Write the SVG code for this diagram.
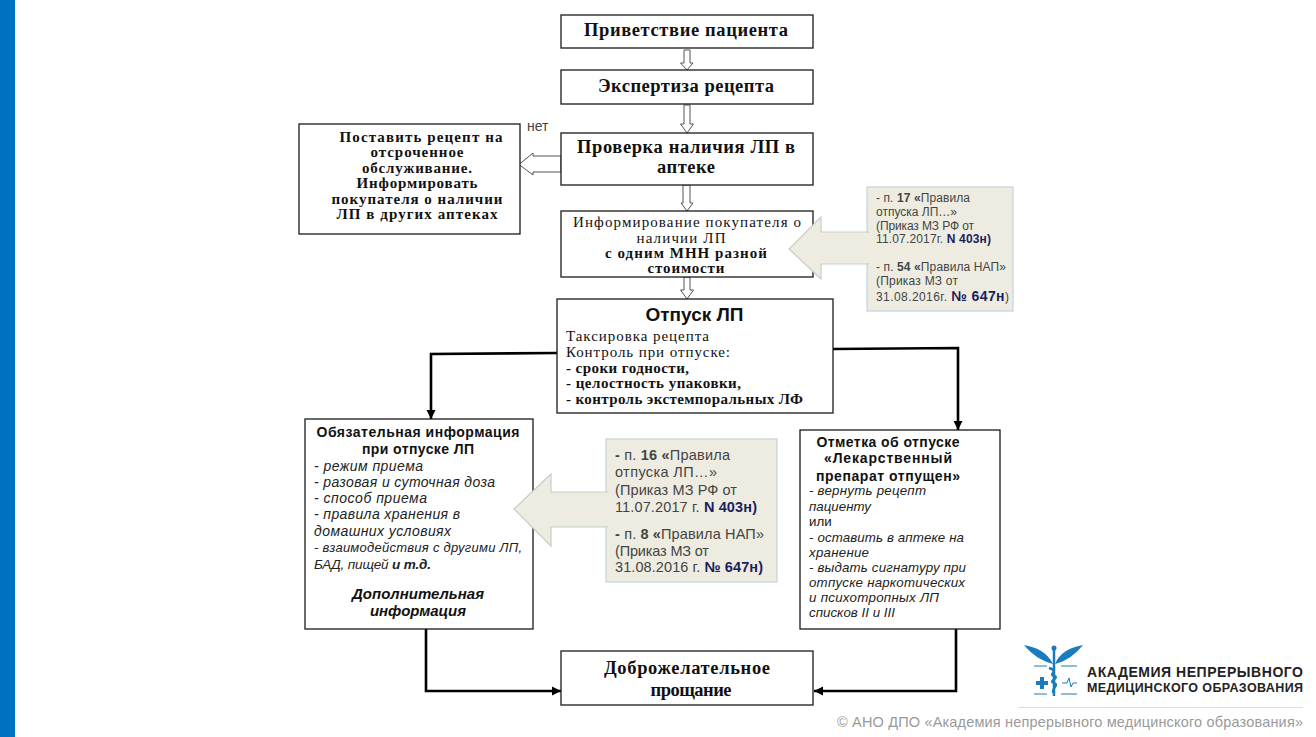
<svg xmlns="http://www.w3.org/2000/svg" width="1316" height="737" viewBox="0 0 1316 737">
<style>
.box{fill:#fff;stroke:#1a1a1a;stroke-width:1.3}
.s{font-family:"Liberation Serif","Times New Roman",serif;font-weight:700;fill:#111}
.a{font-family:"Liberation Sans",Arial,sans-serif;fill:#111}
.b{font-weight:700}
.i{font-style:italic;fill:#222}
.m{text-anchor:middle}
.h18{font-size:18.500px}
.h15{font-size:15px}
.t14{font-size:14px}
.t13{font-size:13.300px}
.g{fill:#444;font-size:12px}
.g2{fill:#444;font-size:14.500px}
.n{fill:#1a1f5c;font-weight:700}
.hollow{fill:#fff;stroke:#555;stroke-width:1}
.call{fill:#eeece1;stroke:#c3d2dc;stroke-width:1.2}
.callarrow{fill:#eeece1;stroke:#c3cfc9;stroke-width:1.2}
.conn{fill:none;stroke:#000;stroke-width:2.6}
.logo{fill:#1a7cbc}
</style>
<defs>
<marker id="ah" markerUnits="userSpaceOnUse" markerWidth="10" markerHeight="10" refX="9" refY="5" orient="auto"><path d="M0 0.5L9 5L0 9.5z" fill="#000"/></marker>
</defs>
<rect id="stripe" x="0" y="0" width="15" height="737" fill="#0070c0"/>

<g id="connectors">
<polygon class="hollow" points="684,50 690,50 690,63 693,63 687,70 680.500,63 684,63"/>
<polygon class="hollow" points="684,105 690,105 690,124 693.500,124 687,133 680.500,124 684,124"/>
<polygon class="hollow" points="561,156 533,156 533,153 519,164.500 533,175 533,172 561,172"/>
<polygon class="hollow" points="683,185 690,185 690,203 693,203 687,211 681,203 683,203"/>
<polygon class="hollow" points="684,277 690,277 690,290 693.500,290 687,299 680.500,290 684,290"/>
<path class="conn" d="M557 353L431 354V419" marker-end="url(#ah)"/>
<path class="conn" d="M833 349L958 348V430" marker-end="url(#ah)"/>
<path class="conn" d="M426 629V691H561" marker-end="url(#ah)"/>
<path class="conn" d="M956 629V691H814" marker-end="url(#ah)"/>
</g>

<g id="n1"><rect class="box" x="561" y="15" width="252" height="33"/><text class="s h18 m" x="686" y="36" textLength="204">Приветствие пациента</text></g>
<g id="n2"><rect class="box" x="561" y="70" width="252" height="34"/><text class="s h18 m" x="686" y="92" textLength="176">Экспертиза рецепта</text></g>
<g id="n3"><rect class="box" x="561" y="133" width="252" height="52"/><text class="s h18 m" x="686" y="153" textLength="218">Проверка наличия ЛП в</text><text class="s h18 m" x="686" y="173" textLength="58">аптеке</text></g>
<g id="n4"><rect class="box" x="299" y="124" width="221" height="110"/>
<text class="s m h15" x="421" y="142" textLength="163">Поставить рецепт на</text>
<text class="s m h15" x="417" y="157" textLength="93">отсроченное</text>
<text class="s m h15" x="417" y="173" textLength="110">обслуживание.</text>
<text class="s m h15" x="417" y="188" textLength="121">Информировать</text>
<text class="s m h15" x="417" y="204" textLength="171">покупателя о наличии</text>
<text class="s m h15" x="417" y="219" textLength="161">ЛП в других аптеках</text></g>
<g id="n5"><rect class="box" x="561" y="211" width="252" height="66"/>
<text class="s m h15" x="687" y="227" textLength="228" style="font-weight:400">Информирование покупателя о</text>
<text class="s m h15" x="681" y="243" textLength="89" style="font-weight:400">наличии ЛП</text>
<text class="s m h15" x="686" y="258" textLength="162">с одним МНН разной</text>
<text class="s m h15" x="686" y="273" textLength="77">стоимости</text></g>
<g id="n6"><rect class="box" x="557" y="299" width="276" height="114"/>
<text class="a b m" font-size="19" x="694.500" y="321">Отпуск ЛП</text>
<text class="s h15" x="566" y="341" textLength="143" style="font-weight:400">Таксировка рецепта</text>
<text class="s h15" x="566" y="357" textLength="164" style="font-weight:400">Контроль при отпуске:</text>
<text class="s h15" x="566" y="373" textLength="123">- сроки годности,</text>
<text class="s h15" x="566" y="388" textLength="175">- целостность упаковки,</text>
<text class="s h15" x="566" y="404" textLength="237">- контроль экстемпоральных ЛФ</text></g>
<g id="n7"><rect class="box" x="305" y="419" width="228" height="210"/>
<text class="a b m" font-size="14" x="418" y="437" textLength="203">Обязательная информация</text>
<text class="a b m" font-size="14" x="418" y="454" textLength="112">при отпуске ЛП</text>
<text class="a i" font-size="14" x="314" y="471" textLength="109">- режим приема</text>
<text class="a i" font-size="14" x="314" y="487" textLength="181">- разовая и суточная доза</text>
<text class="a i" font-size="14" x="314" y="503" textLength="113">- способ приема</text>
<text class="a i" font-size="14" x="314" y="519" textLength="146">- правила хранения в</text>
<text class="a i" font-size="14" x="314" y="536" textLength="137">домашних условиях</text>
<text class="a i" font-size="13" x="314" y="552" textLength="208">- взаимодействия с другими ЛП,</text>
<text class="a i" font-size="13.500" x="314" y="569" textLength="117">БАД, пищей <tspan class="b">и т.д.</tspan></text>
<text class="a i b m" font-size="15" x="418" y="599" style="fill:#111" textLength="132">Дополнительная</text>
<text class="a i b m" font-size="15" x="418" y="616" style="fill:#111" textLength="96">информация</text></g>
<g id="n8"><rect class="box" x="800" y="430" width="200" height="199"/>
<text class="a b m" font-size="14" x="888" y="447" textLength="143">Отметка об отпуске</text>
<text class="a b m" font-size="14" x="888" y="463" textLength="128">«Лекарственный</text>
<text class="a b m" font-size="14" x="888" y="481" textLength="144">препарат отпущен»</text>
<text class="a i t13" x="809" y="495" textLength="117">- вернуть рецепт</text>
<text class="a i t13" x="809" y="511" textLength="62">пациенту</text>
<text class="a t13" x="809" y="526" fill="#222">или</text>
<text class="a i t13" x="809" y="542" textLength="155">- оставить в аптеке на</text>
<text class="a i t13" x="809" y="557" textLength="60">хранение</text>
<text class="a i t13" x="809" y="572" textLength="157">- выдать сигнатуру при</text>
<text class="a i t13" x="809" y="587" textLength="156">отпуске наркотических</text>
<text class="a i t13" x="809" y="602" textLength="130">и психотропных ЛП</text>
<text class="a i t13" x="809" y="617" textLength="86">списков II и III</text></g>
<g id="n9"><rect class="box" x="561" y="651" width="252" height="54"/><text class="s h18 m" x="687" y="674" textLength="166">Доброжелательное</text><text class="s h18 m" x="691" y="696" textLength="81">прощание</text></g>

<text id="net" class="a" font-size="14" x="527" y="131" style="fill:#444">нет</text>

<g id="callout1">
<rect class="call" x="867" y="187" width="146" height="124"/>
<polygon class="callarrow" points="868,232 821,232 821,217 789,249 821,279 821,264 868,264"/>
<path d="M866 233V263H870V233z" fill="#eeece1"/>
<text class="a g" x="876" y="202" textLength="94">- п. <tspan class="b">17 «</tspan>Правила</text>
<text class="a g" x="876" y="216" textLength="81">отпуска ЛП…»</text>
<text class="a g" x="876" y="230" textLength="98">(Приказ МЗ РФ от</text>
<text class="a g" x="876" y="243" textLength="115">11.07.2017г. <tspan class="n">N 403н)</tspan></text>
<text class="a g" x="876" y="271" textLength="130">- п. <tspan class="b">54 «</tspan>Правила НАП»</text>
<text class="a g" x="876" y="285" textLength="82">(Приказ МЗ от</text>
<text class="a g" x="876" y="301" textLength="133">31.08.2016г. <tspan class="n" font-size="14">№ 647н</tspan>)</text>
</g>
<g id="callout2">
<rect class="call" x="606" y="439" width="171" height="143"/>
<polygon class="callarrow" points="607,492 551,492 551,474 514,509 551,546 551,527 607,527"/>
<path d="M605 493V526H609V493z" fill="#eeece1"/>
<text class="a g2" x="615" y="460" textLength="115"><tspan class="b">-</tspan> п. <tspan class="b">16 «</tspan>Правила</text>
<text class="a g2" x="615" y="477" textLength="102">отпуска ЛП…»</text>
<text class="a g2" x="615" y="495" textLength="122">(Приказ МЗ РФ от</text>
<text class="a g2" x="615" y="512" textLength="142">11.07.2017 г. <tspan class="n">N 403н)</tspan></text>
<text class="a g2" x="615" y="539" textLength="149"><tspan class="b">-</tspan> п. <tspan class="b">8 «</tspan>Правила НАП»</text>
<text class="a g2" x="615" y="556" textLength="94">(Приказ МЗ от</text>
<text class="a g2" x="615" y="572" textLength="148">31.08.2016 г. <tspan class="n">№ 647н)</tspan></text>
</g>

<g id="logo">
<path class="logo" d="M1024 645C1036 647 1047 652 1053 664C1042 661 1032 655 1024 645z"/>
<path class="logo" d="M1083 645C1071 647 1060 652 1055 664C1066 661 1075 655 1083 645z"/>
<path d="M1054 648V696" stroke="#1a7cbc" stroke-width="2.500" fill="none"/>
<circle class="logo" cx="1054" cy="648" r="2.500"/>
<path d="M1049 668C1060 671 1048 674 1054 676C1060 678 1048 681 1054 683C1060 685 1050 689 1054 693" stroke="#1a7cbc" stroke-width="2.500" fill="none"/>
<path d="M1034 666H1047M1061 666H1077M1034 694H1047M1061 694H1077" stroke="#1a7cbc" stroke-width="1" fill="none"/>
<path class="logo" d="M1036 681H1040V677H1044V681H1048V685H1044V689H1040V685H1036z"/>
<path d="M1062 683H1067L1069 678L1071 687L1073 683H1077" stroke="#1a7cbc" stroke-width="1" fill="none"/>
<text class="a b" font-size="14" x="1087" y="677" textLength="216" style="fill:#222">АКАДЕМИЯ НЕПРЕРЫВНОГО</text>
<text class="a b" font-size="12.500" x="1087" y="692" textLength="216" style="fill:#222">МЕДИЦИНСКОГО ОБРАЗОВАНИЯ</text>
<path d="M1018 707.500H1303" stroke="#ddd" stroke-width="1"/>
<text id="copyright" class="a" font-size="14.500" x="837" y="727" textLength="466" style="fill:#9a9a9a">© АНО ДПО «Академия непрерывного медицинского образования»</text>
</g>
</svg>
